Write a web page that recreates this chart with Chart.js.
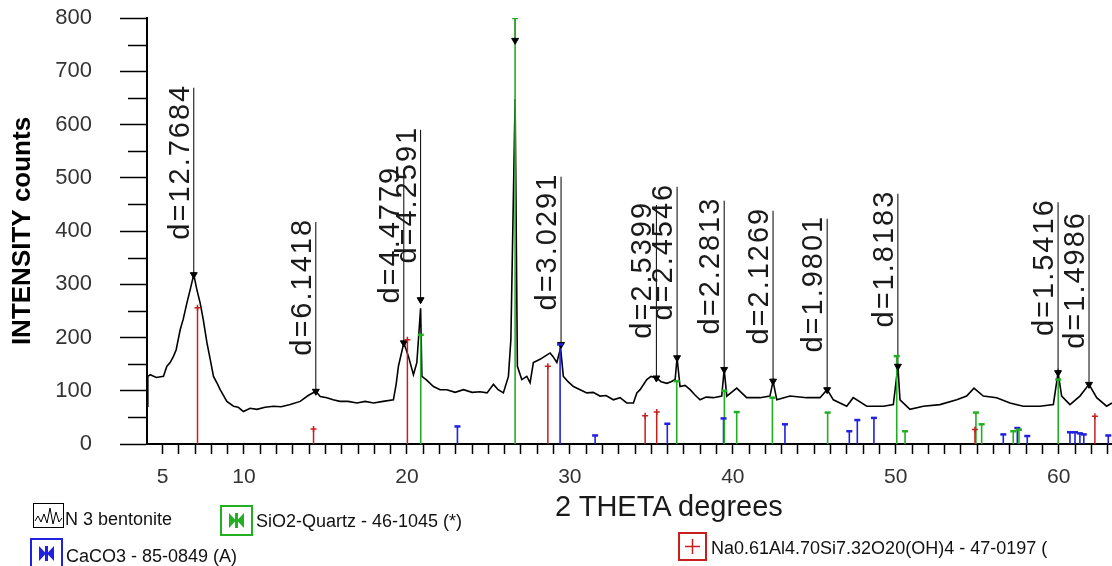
<!DOCTYPE html>
<html><head><meta charset="utf-8">
<script src="https://cdn.jsdelivr.net/npm/chart.js@4/dist/chart.umd.min.js"></script>
<style>
html,body{margin:0;padding:0;background:#fff;overflow:hidden}
#wrap{position:relative;width:1112px;height:566px;background:#fff}
canvas{position:absolute;left:0;top:0}
.t{position:absolute;font-family:'Liberation Sans',Arial,sans-serif;color:#111;white-space:nowrap;line-height:1}
svg.ic{position:absolute}
</style></head><body>
<div id="wrap">
<canvas id="c" width="1112" height="566"></canvas>
<div class="t" style="left:555px;top:492px;font-size:29px;color:#1a1a1a">2 THETA degrees</div>
<svg class="ic" style="left:33px;top:503px" width="31" height="25"><rect x="0.5" y="0.5" width="30" height="24" fill="#fff" stroke="#000"/><polyline points="2,18 5,13 8,19 11,11 14,20 17,5 20,21 23,9 26,19 29,15" fill="none" stroke="#000" stroke-width="1"/></svg>
<div class="t" style="left:65px;top:510px;font-size:18px">N 3 bentonite</div>
<svg class="ic" style="left:220px;top:505px" width="33" height="31"><rect x="1" y="1" width="31" height="29" fill="#fff" stroke="#22b022" stroke-width="2"/><polygon points="9,8 16,15.5 9,23" fill="#22b022"/><polygon points="24,8 17,15.5 24,23" fill="#22b022"/><rect x="15" y="8" width="3" height="15" fill="#22b022"/></svg>
<div class="t" style="left:256px;top:512px;font-size:18px">SiO2-Quartz - 46-1045 (*)</div>
<svg class="ic" style="left:30px;top:538px" width="33" height="31"><rect x="1" y="1" width="31" height="29" fill="#fff" stroke="#2020e0" stroke-width="2"/><polygon points="9,8 16,15.5 9,23" fill="#2020e0"/><polygon points="24,8 17,15.5 24,23" fill="#2020e0"/><rect x="15" y="8" width="3" height="15" fill="#2020e0"/></svg>
<div class="t" style="left:66px;top:547px;font-size:18px">CaCO3 - 85-0849 (A)</div>
<svg class="ic" style="left:678px;top:532px" width="29" height="29"><rect x="1" y="1" width="27" height="27" fill="#fff" stroke="#c81e1e" stroke-width="2"/><line x1="14.5" y1="7" x2="14.5" y2="22" stroke="#c81e1e" stroke-width="1.5"/><line x1="7" y1="14.5" x2="22" y2="14.5" stroke="#c81e1e" stroke-width="1.5"/></svg>
<div class="t" style="left:711px;top:539px;font-size:18px">Na0.61Al4.70Si7.32O20(OH)4 - 47-0197 (</div>
</div>
<script>
// ---- measured pattern (2-theta degrees, intensity counts) ----
const twoTheta = [4.05,4.10,4.25,4.62,5.06,5.27,5.47,5.68,5.84,6.09,6.27,6.50,6.70,6.92,7.11,7.31,7.50,7.73,7.93,8.13,8.34,8.54,8.95,9.36,9.65,9.97,10.38,10.79,11.30,11.81,12.28,12.84,13.45,13.94,14.41,14.68,15.09,15.47,15.90,16.39,16.93,17.44,17.95,18.54,19.17,19.34,19.48,19.81,20.09,20.40,20.61,20.84,20.92,21.18,21.63,22.04,22.45,22.96,23.47,24.00,24.49,24.92,25.31,25.60,25.92,26.23,26.38,26.64,26.78,27.05,27.36,27.56,27.76,28.17,28.48,28.79,28.97,29.20,29.43,29.60,29.89,30.22,30.63,31.04,31.43,31.85,32.22,32.67,33.08,33.49,33.90,34.11,34.31,34.72,34.98,35.31,35.60,35.95,36.21,36.46,36.58,36.76,37.07,37.38,37.68,37.99,38.36,38.81,39.32,39.47,39.63,40.24,40.85,41.67,42.28,42.47,42.70,43.51,44.54,45.35,45.79,46.17,46.99,47.39,48.22,49.24,49.85,50.13,50.26,50.87,51.69,52.71,53.74,54.35,54.80,55.37,56.19,57.01,57.82,58.85,59.67,59.96,60.18,60.69,61.30,61.86,62.33,62.94,63.27];
const counts = [71,127,130,125,127,146,153,165,177,215,234,265,290,318,290,265,234,190,159,127,115,102,80,71,69,61,67,65,69,71,70,74,80,91,99,89,87,83,80,80,77,80,77,80,83,112,146,190,165,130,153,255,127,121,108,102,102,97,102,97,98,96,112,102,96,127,196,648,146,121,127,115,153,159,165,171,164,153,180,127,117,108,102,96,97,90,91,83,87,77,77,96,102,121,127,124,117,114,117,121,162,108,110,102,92,83,88,87,90,140,90,105,87,87,90,118,83,90,87,87,102,83,71,87,71,71,74,146,83,65,71,74,83,90,105,90,87,77,71,71,74,134,90,74,90,112,87,71,77];

// ---- d-spacing peak labels ----
const peakPos   = [6.92,14.41,19.81,20.84,26.64,29.46,35.31,36.58,39.47,42.47,45.79,50.13,59.96,61.86];
const peakMark  = [318,99,190,271,758,187,124,162,140,118,102,146,134,112];
const labelTop  = [669,417,515,590,800,502,449,483,457,438,423,470,454,430];
const labelText = ['d=12.7684','d=6.1418','d=4.4779','d=4.2591','','d=3.0291','d=2.5399','d=2.4546','d=2.2813','d=2.1269','d=1.9801','d=1.8183','d=1.5416','d=1.4986'];

// ---- reference patterns (stick positions and heights) ----
const redPos   = [7.15,14.27,20.03,28.65,34.62,35.33,54.86,62.22];
const redH     = [256,28,196,146,53,60,27,52];
const greenPos = [20.85,26.64,36.56,39.48,40.24,42.43,45.82,50.06,50.57,54.92,55.27,57.21,57.56,59.97];
const greenH   = [205,800,118,100,60,87,59,165,24,59,37,24,27,121];
const bluePos  = [23.10,29.40,31.55,35.98,39.43,43.20,47.15,47.64,48.66,56.60,57.46,58.07,60.69,61.00,61.30,61.54,63.04];
const blueH    = [33,187,16,38,48,37,24,45,49,18,30,15,22,22,20,18,16];

// ---- axis ticks ----
const xLabelValues = [5,10,20,30,40,50,60];
const xMin = 4.05, xMax = 63.27, yMax = 800;

const RED='#c81e1e', GREEN='#22b022', BLUE='#2020e0';
const FONT = "'Liberation Sans', Arial, sans-serif";

function sticks(pos, h){ return pos.flatMap((p,i)=>[{x:p,y:0},{x:p,y:h[i]},{x:p,y:null}]); }
function tops(pos, h){ return pos.map((p,i)=>({x:p,y:h[i]})); }

const datasets = [
  {data: sticks(redPos, redH), borderColor: RED, borderWidth: 1.5, pointRadius: 0, spanGaps:false, order:1},
  {data: sticks(greenPos, greenH), borderColor: GREEN, borderWidth: 1.6, pointRadius: 0, spanGaps:false, order:1},
  {data: sticks(bluePos, blueH), borderColor: BLUE, borderWidth: 1.6, pointRadius: 0, spanGaps:false, order:1},
  {data: tops(redPos, redH), showLine:false, pointStyle:'cross', pointRadius:3, borderColor: RED, borderWidth:1.5, order:0},
  {data: tops(greenPos, greenH), showLine:false, pointStyle:'line', pointRadius:3, borderColor: GREEN, borderWidth:2.5, order:0},
  {data: tops(bluePos, blueH), showLine:false, pointStyle:'line', pointRadius:3, borderColor: BLUE, borderWidth:2.5, order:0},
  {data: twoTheta.map((t,i)=>({x:t,y:counts[i]})), borderColor:'#000', borderWidth:1.6, pointRadius:0, tension:0, order:2},
  {data: peakPos.flatMap((p,i)=>[{x:p,y:peakMark[i]},{x:p,y:labelTop[i]},{x:p,y:null}]), borderColor:'#000', borderWidth:1, pointRadius:0, spanGaps:false, order:3},
  {data: peakPos.map((p,i)=>({x:p,y:peakMark[i]})), showLine:false, pointStyle:'triangle', rotation:180, pointRadius:4, backgroundColor:'#000', borderColor:'#000', borderWidth:1, order:0}
];

const labelPlugin = {
  id:'dlabels',
  afterDatasetsDraw(chart){
    const {ctx, scales:{x,y}} = chart;
    ctx.save();
    ctx.fillStyle = '#1a1a1a';
    ctx.font = "29px " + FONT;
    try { ctx.letterSpacing = '2px'; } catch(e) {}
    ctx.textAlign = 'right';
    ctx.textBaseline = 'alphabetic';
    peakPos.forEach((p,i)=>{
      if(!labelText[i]) return;
      const px = x.getPixelForValue(p), py = y.getPixelForValue(labelTop[i]);
      ctx.save();
      ctx.translate(px-5, py-4);
      ctx.rotate(-Math.PI/2);
      ctx.fillText(labelText[i], 0, 0);
      ctx.restore();
    });
    try { ctx.letterSpacing = '0px'; } catch(e) {}
    // minor y ticks
    ctx.strokeStyle = '#000'; ctx.lineWidth = 1.5;
    for(let v=50; v<yMax; v+=100){
      const yy = Math.round(y.getPixelForValue(v))+0.5;
      ctx.beginPath(); ctx.moveTo(y.right-19, yy); ctx.lineTo(y.right, yy); ctx.stroke();
    }
    ctx.restore();
  }
};

function zeroMargins(s){
  s.paddingLeft = 0; s.paddingRight = 0; s.paddingTop = 0; s.paddingBottom = 0;
}

new Chart(document.getElementById('c'), {
  type:'line',
  data:{datasets},
  options:{
    responsive:false, animation:false, devicePixelRatio:1,
    layout:{autoPadding:false, padding:{top:18,right:0,bottom:0,left:0}},
    plugins:{legend:{display:false}, tooltip:{enabled:false}},
    elements:{point:{hitRadius:0, hoverRadius:0}},
    scales:{
      x:{type:'linear', min:xMin, max:xMax,
        border:{display:true,color:'#000',width:2},
        grid:{drawOnChartArea:false, drawTicks:true, tickLength:10, tickColor:'#000', tickWidth:1.5},
        afterBuildTicks(s){ const t=[]; for(let v=5; v<=63; v++) t.push({value:v}); s.ticks=t; },
        ticks:{autoSkip:false, maxRotation:0, padding:11, color:'#333', font:{family:FONT,size:21},
          callback:(v)=> xLabelValues.includes(v) ? String(v) : ''},
        afterFit(s){ s.height = 122; zeroMargins(s); }
      },
      y:{type:'linear', min:0, max:yMax,
        border:{display:true,color:'#000',width:2},
        grid:{drawOnChartArea:false, drawTicks:true, tickLength:27, tickColor:'#000', tickWidth:1.5},
        ticks:{stepSize:100, padding:28, color:'#333', font:{family:FONT,size:22}},
        title:{display:true, text:'INTENSITY counts', color:'#000', font:{family:FONT,size:26,weight:'bold'}, padding:{top:7,bottom:0}},
        afterFit(s){ s.width = 147; zeroMargins(s); }
      }
    }
  },
  plugins:[labelPlugin]
});
</script>
</body></html>
